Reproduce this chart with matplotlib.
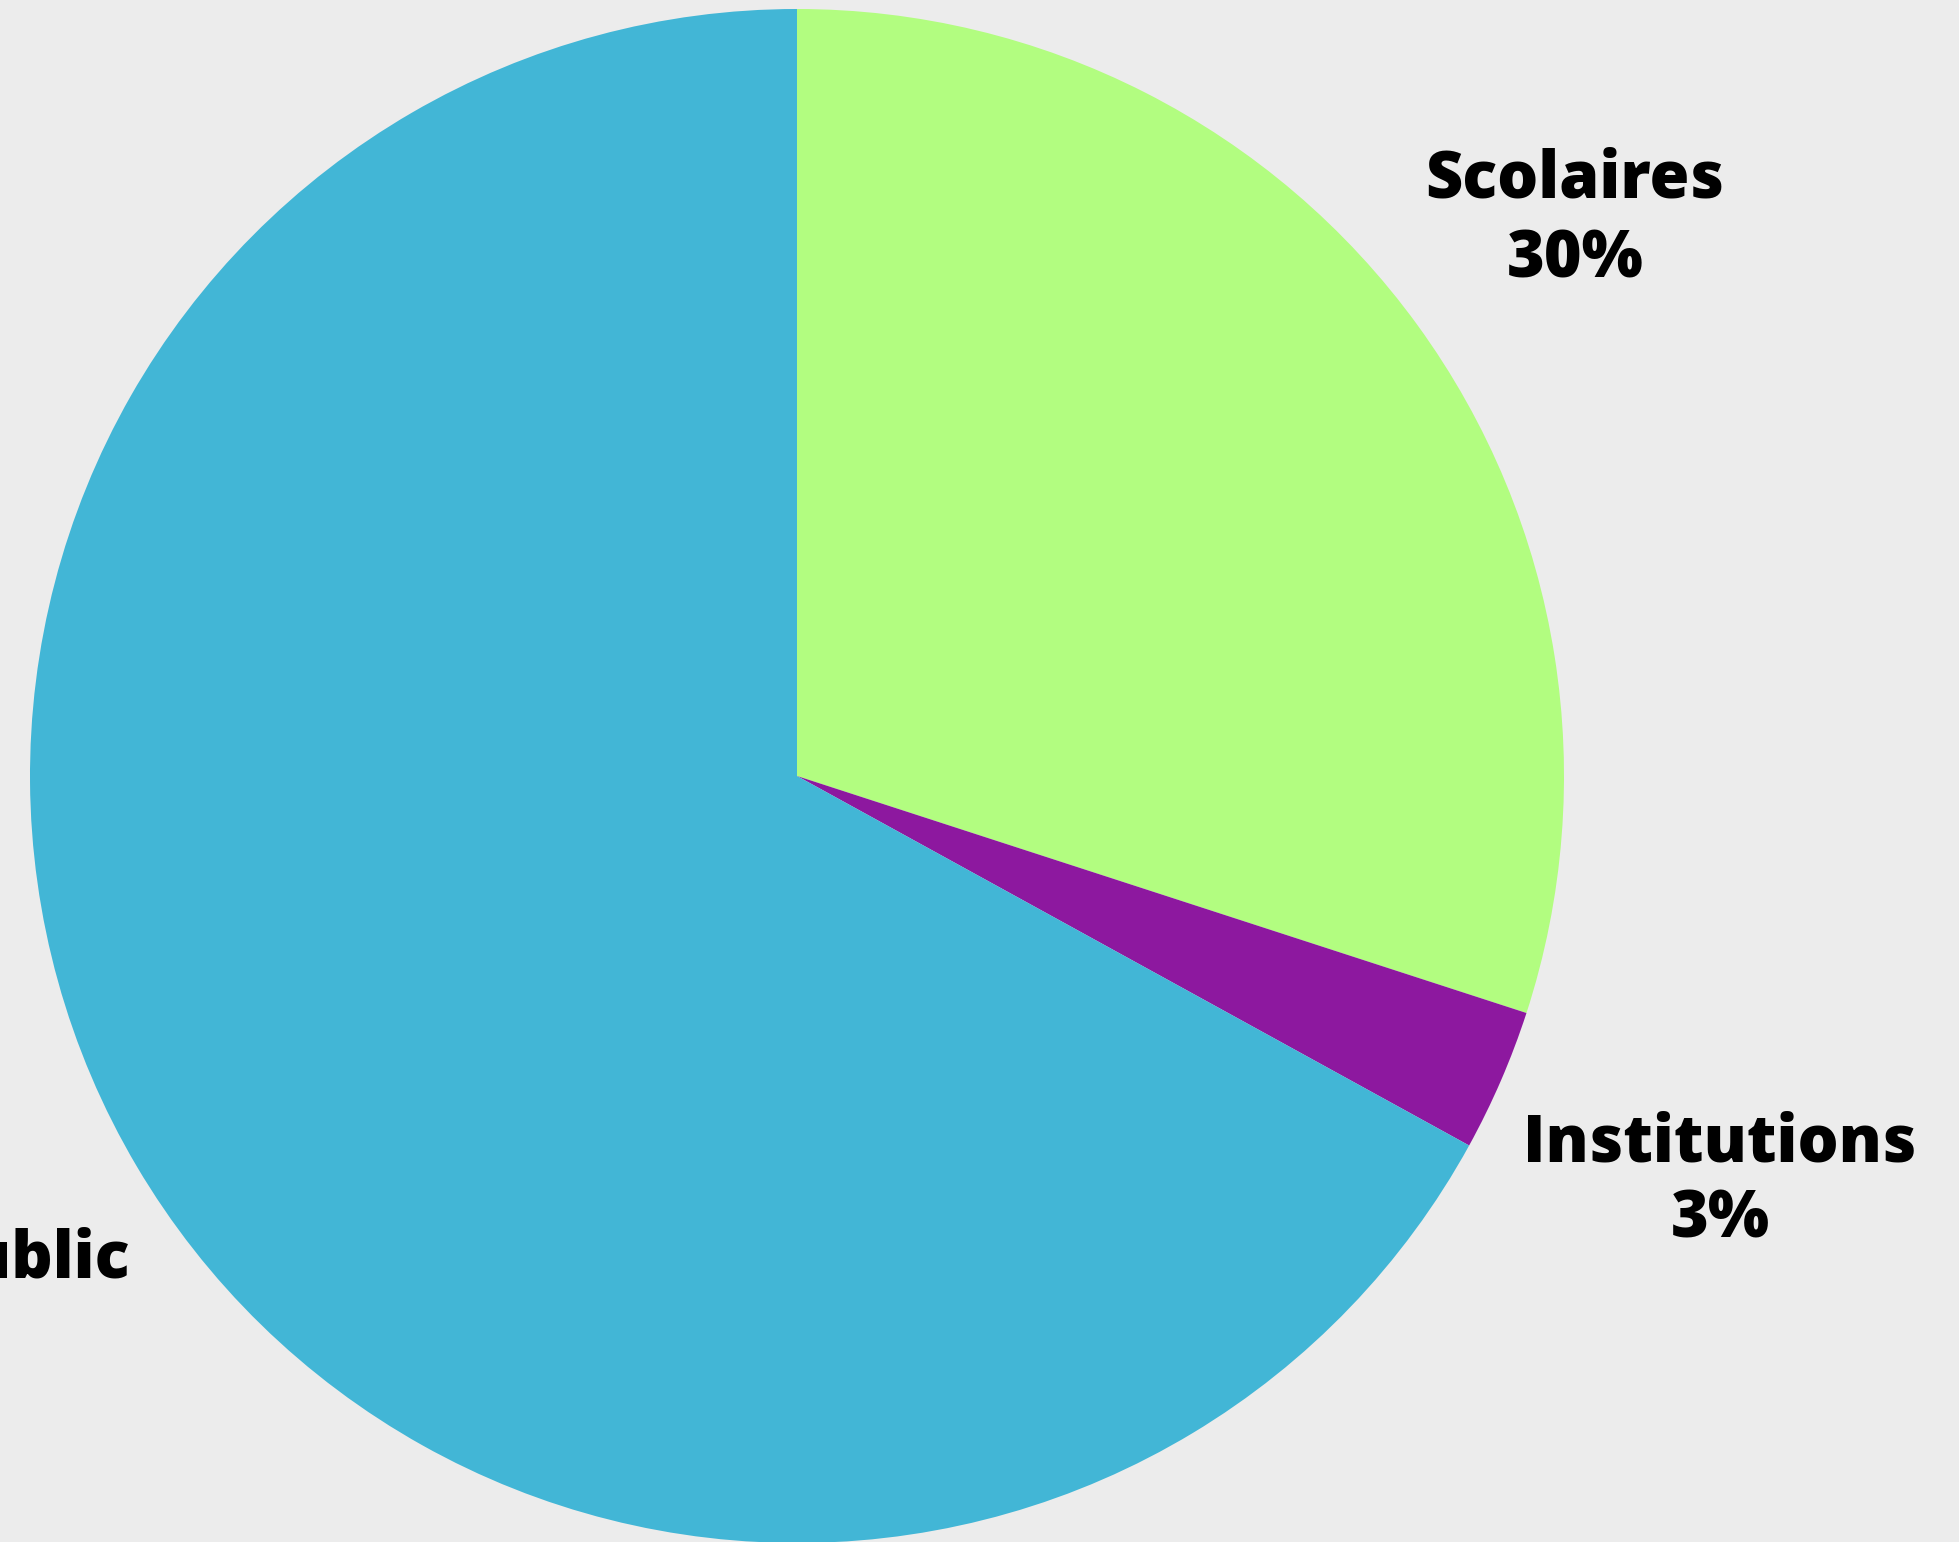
"""Pie chart of audience breakdown"""

import matplotlib.pyplot as plt

labels = ["Scolaires", "Institutions", "Public"]
shares = [30, 3, 67]
colors = ["#b2fd80", "#8d189f", "#42b6d6"]

W, H = 1959, 1542

fig = plt.figure(figsize=(W / 100, H / 100), dpi=100)
fig.patch.set_facecolor("#ececec")
ax = fig.add_axes([0, 0, 1, 1])

ax.pie(
    shares,
    colors=colors,
    startangle=90,
    counterclock=False,
    center=(797, H - 776),
    radius=767,
    wedgeprops={"linewidth": 0},
    frame=True,
)
ax.set_xlim(0, W)
ax.set_ylim(0, H)
ax.set_aspect("equal")
ax.axis("off")

font = dict(family="Open Sans", weight=800, size=46.5, color="black")

# label positions in pixels (x centre, first baseline from top)
ax.text(1575, H - 198, labels[0], ha="center", va="baseline", **font)
ax.text(1575, H - 277, f"{shares[0]}%", ha="center", va="baseline", **font)
ax.text(1720, H - 1162, labels[1], ha="center", va="baseline", **font)
ax.text(1720, H - 1238, f"{shares[1]}%", ha="center", va="baseline", **font)
ax.text(130, H - 1278, labels[2], ha="right", va="baseline", **font)

fig.savefig("out.png", dpi=100, facecolor=fig.get_facecolor())
